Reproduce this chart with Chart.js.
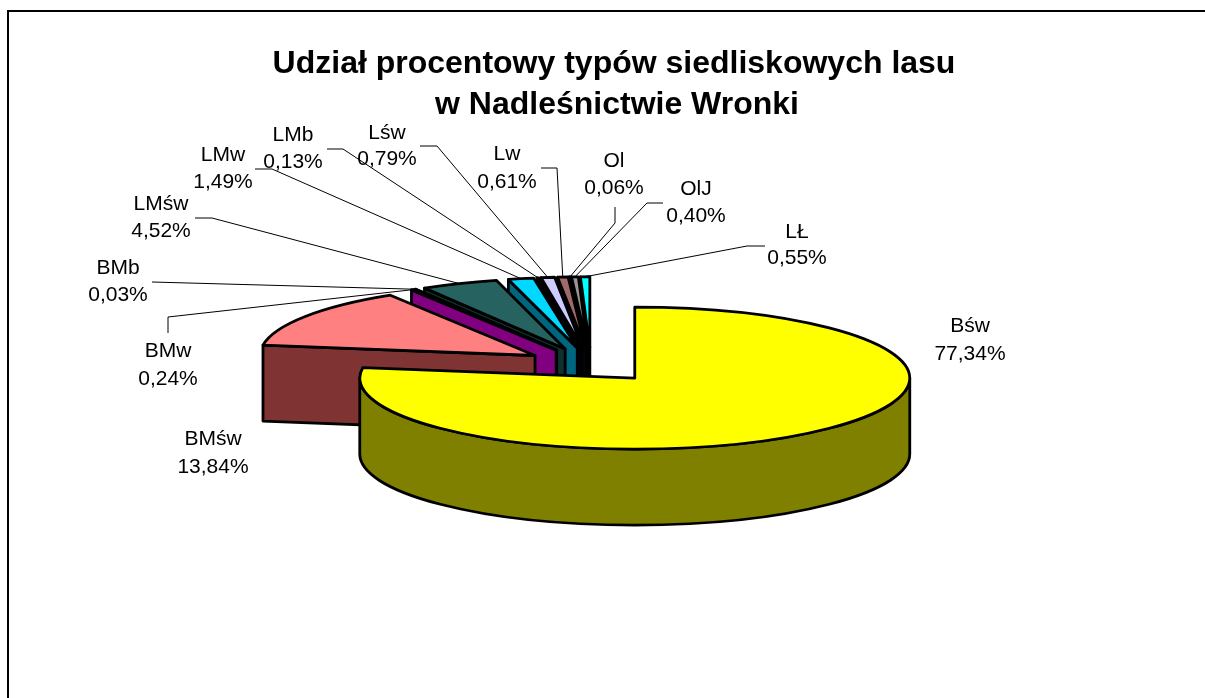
<!DOCTYPE html>
<html>
<head>
<meta charset="utf-8">
<title>Udział procentowy typów siedliskowych lasu</title>
<script src="https://cdn.jsdelivr.net/npm/chart.js@4"></script>
<style>
    html, body { margin: 0; padding: 0; width: 1205px; height: 698px; overflow: hidden; background: #fff; }
    #frame { position: absolute; left: 7px; top: 10px; width: 1400px; height: 900px; border: 2px solid #000; }
    #wrap { position: absolute; left: 0; top: 0; width: 1205px; height: 698px; }
</style>
</head>
<body>
<div id="frame"></div>
<div id="wrap"><canvas id="pieChart" width="1205" height="698"></canvas></div>
<script>
const categories = ['Bśw', 'BMśw', 'BMw', 'BMb', 'LMśw', 'LMw', 'LMb', 'Lśw', 'Lw', 'Ol', 'OlJ', 'LŁ'];
const shares = [77.34, 13.84, 0.24, 0.03, 4.52, 1.49, 0.13, 0.79, 0.61, 0.06, 0.40, 0.55];
const topColors = ['#ffff00', '#ff8080', '#ff00ff', '#000000', '#266260', '#00d8ff', '#000080', '#ccccff', '#a06a6a', '#999900', '#969696', '#00ffff'];
const wallColors = ['#808000', '#7f3333', '#800080', '#000000', '#0f3030', '#006680', '#000040', '#666680', '#503535', '#4d4d00', '#4b4b4b', '#008080'];
const titleLines = ['Udział procentowy typów siedliskowych lasu', 'w Nadleśnictwie Wronki'];

// label placement: [centre x, first line y, second line y]
const labelPlaces = [
    [970, 326, 354], [213, 439, 467], [168, 351, 379], [118, 268, 295],
    [161, 204, 231], [223, 155, 182], [293, 135, 162], [387, 133, 159],
    [507, 154, 182], [614, 161, 188], [696, 189, 216], [797, 232, 258]
];
// leader line points on the label side, the end on the slice comes from the arc
const leaderPoints = [
    null, null,
    [[168, 333], [168, 317]],
    [[152, 282]],
    [[195, 218], [212, 218]],
    [[255, 169], [272, 169]],
    [[327, 149], [343, 149]],
    [[420, 146], [437, 146]],
    [[541, 168], [557, 168]],
    [[615, 207], [615, 223]],
    [[663, 203], [647, 203]],
    [[765, 246], [747, 246]]
];

const squash = 0.258;
const depth = 76;
const slicePull = 67;

function shape(ctx, fill, buildPath) {
    ctx.beginPath();
    buildPath();
    ctx.closePath();
    ctx.fillStyle = fill;
    ctx.fill();
    ctx.stroke();
}

function drawSlice(ctx, arc, color, dark) {
    const o = arc.options.offset;
    const mid = (arc.startAngle + arc.endAngle) / 2;
    const x = arc.x + Math.cos(mid) * o;
    const y = arc.y + Math.sin(mid) * o * squash;
    const rx = arc.outerRadius;
    const ry = rx * squash;

    const sideWall = function (a) {
        shape(ctx, dark, function () {
            ctx.moveTo(x, y);
            ctx.lineTo(x + Math.cos(a) * rx, y + Math.sin(a) * ry);
            ctx.lineTo(x + Math.cos(a) * rx, y + Math.sin(a) * ry + depth);
            ctx.lineTo(x, y + depth);
        });
    };

    // only walls facing the viewer
    if (Math.cos(arc.startAngle) < 0) sideWall(arc.startAngle);
    if (Math.cos(arc.endAngle) > 0) sideWall(arc.endAngle);

    const lo = Math.max(arc.startAngle, 0);
    const hi = Math.min(arc.endAngle, Math.PI);
    if (hi > lo) {
        shape(ctx, dark, function () {
            ctx.ellipse(x, y, rx, ry, 0, lo, hi);
            ctx.ellipse(x, y + depth, rx, ry, 0, hi, lo, true);
        });
    }

    shape(ctx, color, function () {
        ctx.moveTo(x, y);
        ctx.ellipse(x, y, rx, ry, 0, arc.startAngle, arc.endAngle);
    });
}

const pie3d = {
    id: 'pie3d',
    beforeDatasetDraw(chart, args) {
        const ctx = chart.ctx;
        const arcs = args.meta.data.map((arc, i) => ({ arc, i }));
        arcs.sort((a, b) => Math.sin((a.arc.startAngle + a.arc.endAngle) / 2) - Math.sin((b.arc.startAngle + b.arc.endAngle) / 2));
        ctx.save();
        ctx.strokeStyle = '#000';
        ctx.lineWidth = 2.8;
        ctx.lineJoin = 'round';
        arcs.forEach(item => drawSlice(ctx, item.arc, topColors[item.i], wallColors[item.i]));
        ctx.restore();
        return false;
    },
    afterDraw(chart) {
        const ctx = chart.ctx;
        const arcs = chart.getDatasetMeta(0).data;
        ctx.save();
        ctx.textAlign = 'center';
        ctx.textBaseline = 'middle';
        ctx.fillStyle = '#000';

        ctx.strokeStyle = '#000';
        ctx.lineWidth = 1;
        leaderPoints.forEach((points, i) => {
            if (!points) return;
            const arc = arcs[i];
            const mid = (arc.startAngle + arc.endAngle) / 2;
            const reach = arc.outerRadius + arc.options.offset;
            ctx.beginPath();
            points.forEach((p, j) => j ? ctx.lineTo(p[0], p[1]) : ctx.moveTo(p[0], p[1]));
            ctx.lineTo(arc.x + Math.cos(mid) * reach, arc.y + Math.sin(mid) * reach * squash);
            ctx.stroke();
        });

        ctx.font = '21px "Liberation Sans"';
        categories.forEach((name, i) => {
            const place = labelPlaces[i];
            ctx.fillText(name, place[0], place[1]);
            ctx.fillText(shares[i].toFixed(2).replace('.', ',') + '%', place[0], place[2]);
        });

        ctx.font = 'bold 32px "Liberation Sans"';
        ctx.fillText(titleLines[0], 614, 64);
        ctx.fillText(titleLines[1], 617, 105);
        ctx.restore();
    }
};

new Chart(document.getElementById('pieChart').getContext('2d'), {
    type: 'pie',
    data: {
        labels: categories,
        datasets: [{
            data: shares,
            backgroundColor: topColors,
            borderWidth: 0,
            offset: slicePull
        }]
    },
    options: {
        responsive: false,
        animation: false,
        radius: 275,
        layout: { padding: { top: 32, right: 23 } },
        plugins: { legend: { display: false }, tooltip: { enabled: false } }
    },
    plugins: [pie3d]
});
</script>
</body>
</html>
